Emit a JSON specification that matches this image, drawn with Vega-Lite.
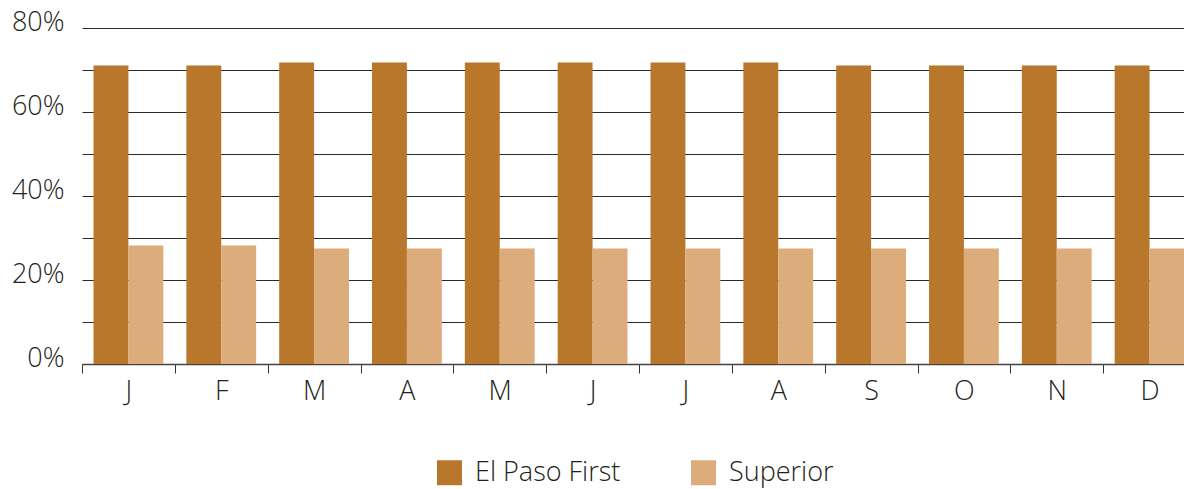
{
  "$schema": "https://vega.github.io/schema/vega-lite/v6.json",
  "autosize": "none",
  "width": 1102,
  "height": 336,
  "padding": {"left": 82, "top": 28, "right": 0, "bottom": 125},
  "background": "white",
  "config": {
    "view": {"stroke": null},
    "font": "Open Sans"
  },
  "data": {
    "values": [
      {"month": "Jan", "plan": "El Paso First", "share": 71.1},
      {"month": "Feb", "plan": "El Paso First", "share": 71.1},
      {"month": "Mar", "plan": "El Paso First", "share": 71.8},
      {"month": "Apr", "plan": "El Paso First", "share": 71.8},
      {"month": "May", "plan": "El Paso First", "share": 71.8},
      {"month": "Jun", "plan": "El Paso First", "share": 71.8},
      {"month": "Jul", "plan": "El Paso First", "share": 71.8},
      {"month": "Aug", "plan": "El Paso First", "share": 71.8},
      {"month": "Sep", "plan": "El Paso First", "share": 71.1},
      {"month": "Oct", "plan": "El Paso First", "share": 71.1},
      {"month": "Nov", "plan": "El Paso First", "share": 71.1},
      {"month": "Dec", "plan": "El Paso First", "share": 71.1},
      {"month": "Jan", "plan": "Superior", "share": 28.2},
      {"month": "Feb", "plan": "Superior", "share": 28.2},
      {"month": "Mar", "plan": "Superior", "share": 27.5},
      {"month": "Apr", "plan": "Superior", "share": 27.5},
      {"month": "May", "plan": "Superior", "share": 27.5},
      {"month": "Jun", "plan": "Superior", "share": 27.5},
      {"month": "Jul", "plan": "Superior", "share": 27.5},
      {"month": "Aug", "plan": "Superior", "share": 27.5},
      {"month": "Sep", "plan": "Superior", "share": 27.5},
      {"month": "Oct", "plan": "Superior", "share": 27.5},
      {"month": "Nov", "plan": "Superior", "share": 27.5},
      {"month": "Dec", "plan": "Superior", "share": 27.5}
    ]
  },
  "mark": {"type": "bar"},
  "encoding": {
    "x": {
      "field": "month",
      "type": "nominal",
      "sort": ["Jan","Feb","Mar","Apr","May","Jun","Jul","Aug","Sep","Oct","Nov","Dec"],
      "scale": {"range": [0, 1114], "paddingInner": 0, "paddingOuter": 0},
      "axis": {
        "title": null,
        "labelAngle": 0,
        "labelExpr": "substring(datum.label, 0, 1)",
        "labelFontSize": 27,
        "labelFont": "Open Sans",
        "labelFontWeight": 300,
        "labelColor": "#231f20",
        "labelPadding": 5,
        "tickBand": "extent",
        "ticks": true,
        "tickSize": 9,
        "tickColor": "#333333",
        "tickWidth": 1,
        "domain": true,
        "domainColor": "#444444",
        "domainWidth": 1.5,
        "grid": false
      }
    },
    "xOffset": {
      "field": "plan",
      "type": "nominal",
      "sort": ["El Paso First", "Superior"],
      "scale": {"paddingInner": 0, "paddingOuter": 0.33}
    },
    "y": {
      "field": "share",
      "type": "quantitative",
      "scale": {"domain": [0, 80], "nice": false},
      "axis": {
        "title": null,
        "values": [0, 10, 20, 30, 40, 50, 60, 70, 80],
        "labelExpr": "datum.value % 20 == 0 ? datum.value + '%' : ''",
        "labelFontSize": 27,
        "labelFont": "Open Sans",
        "labelFontWeight": 300,
        "labelColor": "#231f20",
        "labelPadding": 18,
        "labelOffset": -6,
        "ticks": false,
        "domain": false,
        "grid": true,
        "gridColor": "#2a2a2a",
        "gridWidth": 1.2
      }
    },
    "color": {
      "field": "plan",
      "type": "nominal",
      "sort": ["El Paso First", "Superior"],
      "scale": {"domain": ["El Paso First", "Superior"], "range": ["#B9772C", "#DCAC7B"]},
      "legend": {
        "title": null,
        "orient": "none",
        "legendX": 354,
        "legendY": 431,
        "direction": "horizontal",
        "symbolType": "square",
        "symbolSize": 625,
        "symbolStrokeWidth": 0,
        "labelFontSize": 27,
        "labelFont": "Open Sans",
        "labelFontWeight": 300,
        "labelColor": "#231f20",
        "labelOffset": 12,
        "columnPadding": 69,
        "padding": 0
      }
    }
  }
}
